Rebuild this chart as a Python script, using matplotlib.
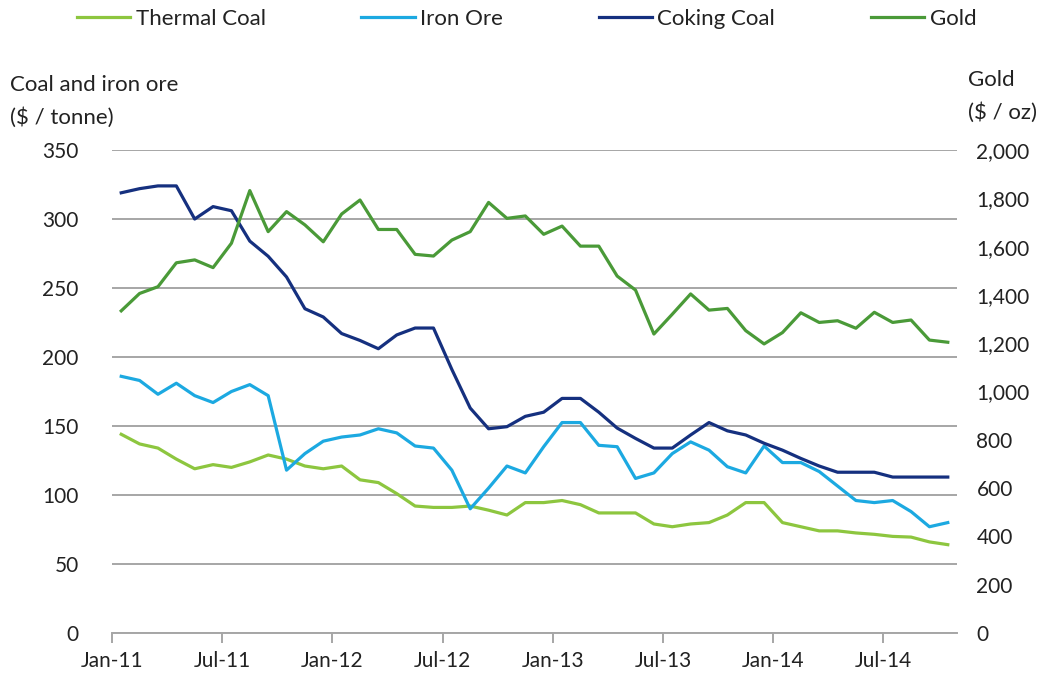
#Precios de materias primas: carbon, mineral de hierro y oro
import matplotlib
matplotlib.use("Agg")
import matplotlib.pyplot as plt
import numpy as np

plt.rcParams['font.family'] = ['Lato', 'DejaVu Sans']

#meses Jan-11 a Oct-14
meses = ['Jan-11', 'Feb-11', 'Mar-11', 'Apr-11', 'May-11', 'Jun-11', 'Jul-11', 'Aug-11', 'Sep-11', 'Oct-11', 'Nov-11', 'Dec-11',
         'Jan-12', 'Feb-12', 'Mar-12', 'Apr-12', 'May-12', 'Jun-12', 'Jul-12', 'Aug-12', 'Sep-12', 'Oct-12', 'Nov-12', 'Dec-12',
         'Jan-13', 'Feb-13', 'Mar-13', 'Apr-13', 'May-13', 'Jun-13', 'Jul-13', 'Aug-13', 'Sep-13', 'Oct-13', 'Nov-13', 'Dec-13',
         'Jan-14', 'Feb-14', 'Mar-14', 'Apr-14', 'May-14', 'Jun-14', 'Jul-14', 'Aug-14', 'Sep-14', 'Oct-14']

#valores ($ / tonne)
thermal_coal = [144, 137, 134, 126, 119, 122, 120, 124, 129, 126, 121, 119, 121, 111, 109, 101,
                92, 91, 91, 92, 89, 85.5, 94.5, 94.5, 96, 93, 87, 87, 87, 79, 77,
                79, 80, 85.5, 94.5, 94.5, 80, 77, 74, 74, 72.5, 71.5, 70, 69.5, 66, 64]
iron_ore = [186, 183, 173, 181, 172, 167, 175, 180, 172, 118, 130, 139, 142, 143.5, 148, 145,
            135.5, 134, 118, 90, 105, 121, 116, 135, 152.5, 152.5, 136, 135, 112, 116, 130,
            138.5, 132.5, 120.5, 116, 135.5, 123.5, 123.5, 117, 106.5, 96, 94.5, 96, 88, 77, 80]
coking_coal = [319, 322, 324, 324, 300, 309, 306, 284, 273, 258, 235, 229, 217, 212, 206, 216,
               221, 221, 191, 163, 148, 149.5, 157, 160, 170, 170, 160, 148.5, 141, 134, 134,
               143.5, 152.5, 146.5, 143.5, 137.5, 132.5, 126.5, 121, 116.5, 116.5, 116.5, 113, 113, 113, 113]
#oro ($ / oz)
gold = [1334, 1406, 1434, 1533, 1545, 1513, 1614, 1832, 1662, 1745, 1690, 1620, 1735, 1793, 1671, 1671,
        1568, 1561, 1627, 1662, 1783, 1717, 1727, 1651, 1685, 1602, 1602, 1478, 1420, 1238, 1320,
        1404, 1337, 1344, 1252, 1197, 1244, 1326, 1286, 1293, 1262, 1328, 1286, 1296, 1213, 1204]

etiquetas_x = ['Jan-11', 'Jul-11', 'Jan-12', 'Jul-12', 'Jan-13', 'Jul-13', 'Jan-14', 'Jul-14']

c_thermal = '#8dc63f'
c_iron = '#1ca9e1'
c_coking = '#15307f'
c_gold = '#4a9a38'
c_texto = '#222222'
c_grid = '#a6a6a6'
fs = 15      #etiquetas de ticks
fs_t = 16    #titulos y leyenda

fig = plt.figure(figsize=(10.53, 6.81), dpi=100)
ax = fig.add_axes([0.1064, 0.0705, 0.8024, 0.7092])
ax2 = ax.twinx()

x = np.arange(len(meses))
l1, = ax.plot(x, thermal_coal, color=c_thermal, lw=2.3, label='Thermal Coal')
l2, = ax.plot(x, iron_ore, color=c_iron, lw=2.3, label='Iron Ore')
l3, = ax.plot(x, coking_coal, color=c_coking, lw=2.3, label='Coking Coal')
l4, = ax2.plot(x, gold, color=c_gold, lw=2.3, label='Gold')

#ejes
ax.set_xlim(-0.5, len(meses) - 0.5)
ax.set_ylim(0, 350)
ax2.set_ylim(0, 2000)
ax.set_yticks(np.arange(0, 351, 50))
ax2.set_yticks(np.arange(0, 2001, 200))
ax2.set_yticklabels([f'{v:,}' for v in range(0, 2001, 200)])
pos_x = [etiquetas_x.index(m) * 6 - 0.5 for m in etiquetas_x]
ax.set_xticks(pos_x)
ax.set_xticklabels(etiquetas_x)

ax.grid(axis='y', color=c_grid, lw=1.4)
ax.set_axisbelow(True)
for a in (ax, ax2):
    for s in ['left', 'right', 'top', 'bottom']:
        a.spines[s].set_visible(False)
ax.spines['bottom'].set_visible(True)
ax.spines['bottom'].set_color(c_grid)
ax.spines['bottom'].set_linewidth(1.4)

ax.tick_params(axis='y', length=0, pad=24, labelsize=fs, labelcolor=c_texto)
ax2.tick_params(axis='y', length=0, pad=14, labelsize=fs, labelcolor=c_texto)
ax.tick_params(axis='x', length=7, width=1.4, color=c_grid, pad=6, labelsize=fs, labelcolor=c_texto)

#titulos de ejes
fig.text(10 / 1053, 1 - 85 / 681, 'Coal and iron ore', fontsize=fs_t, color=c_texto, va='center', ha='left')
fig.text(10 / 1053, 1 - 118 / 681, '($ / tonne)', fontsize=fs_t, color=c_texto, va='center', ha='left')
fig.text(968 / 1053, 1 - 80 / 681, 'Gold', fontsize=fs_t, color=c_texto, va='center', ha='left')
fig.text(968 / 1053, 1 - 113 / 681, '($ / oz)', fontsize=fs_t, color=c_texto, va='center', ha='left')

#leyenda
fig.legend(handles=[l1, l2, l3, l4], loc='center', bbox_to_anchor=(0.5, 1 - 19 / 681), ncol=4,
           frameon=False, fontsize=fs_t, handlelength=2.4, handletextpad=0.25, columnspacing=4.3,
           labelcolor=c_texto)

fig.savefig('out.png', dpi=100)
